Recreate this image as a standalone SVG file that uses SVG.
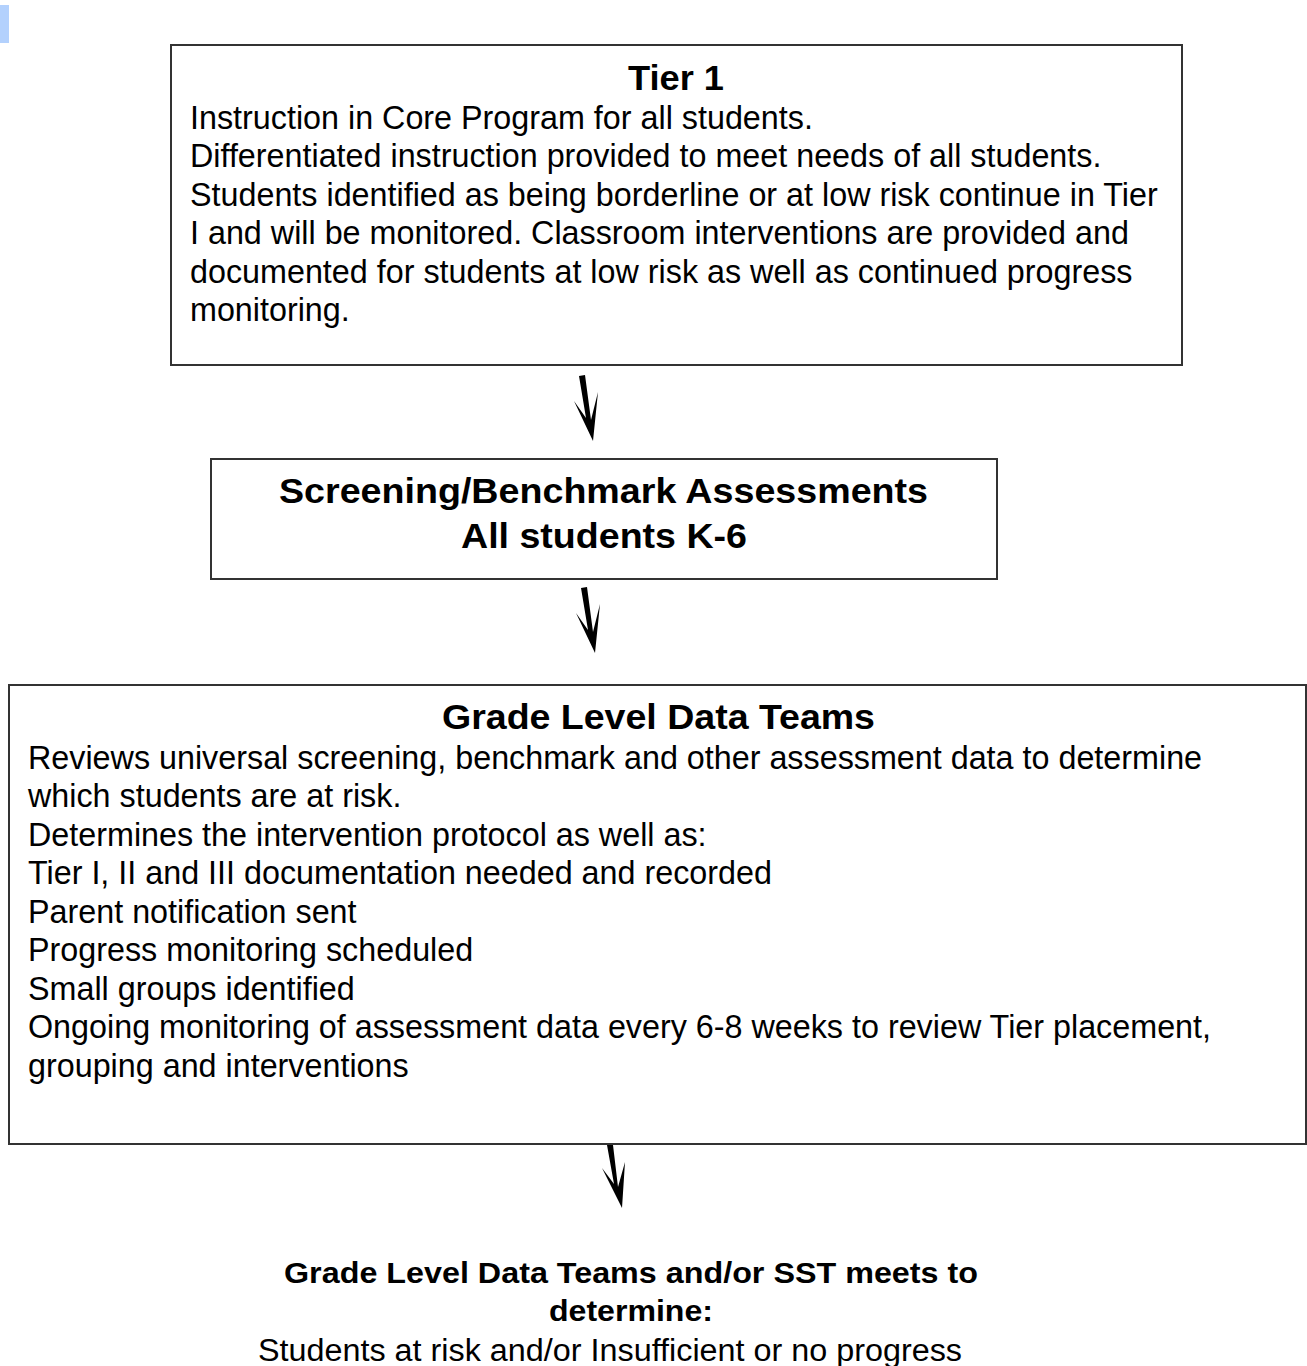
<svg xmlns="http://www.w3.org/2000/svg" width="1307" height="1366" viewBox="0 0 1307 1366">
<style>
.box{fill:#fff;stroke:#333;stroke-width:2}
.t{font-family:"Liberation Sans",Arial,sans-serif;font-size:32.3px;fill:#000}
.b{font-family:"Liberation Sans",Arial,sans-serif;font-size:35px;font-weight:bold;fill:#000;text-anchor:middle}
.n{font-family:"Liberation Sans",Arial,sans-serif;fill:#000;text-anchor:middle}
.arr{fill:#000}
</style>
<rect width="1307" height="1366" fill="#fff"/>
<rect x="0" y="5" width="9" height="38" fill="#b3d1fd"/>
<g id="tier1">
<rect class="box" x="171" y="45" width="1011" height="320"/>
<text class="b" x="676" y="90" textLength="96" lengthAdjust="spacingAndGlyphs">Tier 1</text>
<text class="t" x="190" y="129">Instruction in Core Program for all students.</text>
<text class="t" x="190" y="167">Differentiated instruction provided to meet needs of all students.</text>
<text class="t" x="190" y="206">Students identified as being borderline or at low risk continue in Tier</text>
<text class="t" x="190" y="244">I and will be monitored. Classroom interventions are provided and</text>
<text class="t" x="190" y="283">documented for students at low risk as well as continued progress</text>
<text class="t" x="190" y="321">monitoring.</text>
</g>
<g id="screening">
<rect class="box" x="211" y="459" width="786" height="120"/>
<text class="b" x="603.5" y="503" textLength="649" lengthAdjust="spacingAndGlyphs">Screening/Benchmark Assessments</text>
<text class="b" x="604" y="548" textLength="286" lengthAdjust="spacingAndGlyphs">All students K-6</text>
</g>
<g id="gldt">
<rect class="box" x="9" y="685" width="1297" height="459"/>
<text class="b" x="658.5" y="729" textLength="433" lengthAdjust="spacingAndGlyphs">Grade Level Data Teams</text>
<text class="t" x="28" y="769">Reviews universal screening, benchmark and other assessment data to determine</text>
<text class="t" x="28" y="807">which students are at risk.</text>
<text class="t" x="28" y="846">Determines the intervention protocol as well as:</text>
<text class="t" x="28" y="884">Tier I, II and III documentation needed and recorded</text>
<text class="t" x="28" y="923">Parent notification sent</text>
<text class="t" x="28" y="961">Progress monitoring scheduled</text>
<text class="t" x="28" y="1000">Small groups identified</text>
<text class="t" x="28" y="1038">Ongoing monitoring of assessment data every 6-8 weeks to review Tier placement,</text>
<text class="t" x="28" y="1077">grouping and interventions</text>
</g>
<g id="sst">
<text class="n" x="631" y="1283" font-size="29" font-weight="bold" textLength="694" lengthAdjust="spacingAndGlyphs">Grade Level Data Teams and/or SST meets to</text>
<text class="n" x="631" y="1321" font-size="29" font-weight="bold" textLength="164" lengthAdjust="spacingAndGlyphs">determine:</text>
<text class="n" x="610" y="1361" font-size="31" textLength="704" lengthAdjust="spacingAndGlyphs">Students at risk and/or Insufficient or no progress</text>
</g>
<g id="connectors">
<polygon class="arr" points="579,376 585,375 591,420 598,392 593,441 574,401 586,418"/>
<polygon class="arr" points="581,588 587,587 593,632 600,604 595,653 576,613 588,630"/>
<polygon class="arr" points="607,1145 613,1145 618,1187 625,1162 622,1208 602,1168 614,1184"/>
</g>
</svg>
